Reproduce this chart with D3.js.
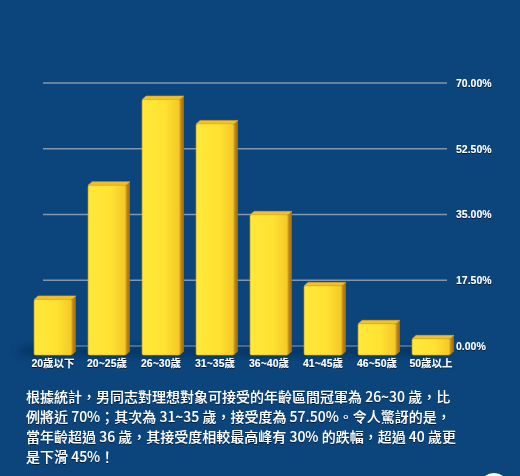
<!DOCTYPE html>
<html>
<head>
<meta charset="utf-8">
<script src="https://cdn.jsdelivr.net/npm/d3@7"></script>
<style>
  html, body { margin: 0; padding: 0; background: #0b457c; }
  svg { display: block; }
</style>
</head>
<body>
<div id="chart"></div>
<script>
// categories and acceptance values (%)
var ageGroups = ["20歲以下", "20~25歲", "26~30歲", "31~35歲", "36~40歲", "41~45歲", "46~50歲", "50歲以上"];
var acceptance = [14.8, 45.2, 68, 61.5, 37.3, 18.4, 8.3, 4.3];
var tickValues = [0, 17.5, 35, 52.5, 70];
var tickLabels = ["0.00%", "17.50%", "35.00%", "52.50%", "70.00%"];
var noteLines = [
    "根據統計，男同志對理想對象可接受的年齡區間冠軍為 26~30 歲，比",
    "例將近 70%；其次為 31~35 歲，接受度為 57.50%。令人驚訝的是，",
    "當年齡超過 36 歲，其接受度相較最高峰有 30% 的跌幅，超過 40 歲更",
    "是下滑 45%！"
];

var width = 520, height = 476;

var svg = d3.select("#chart")
    .append("svg")
    .attr("width", width)
    .attr("height", height);

svg.append("rect")
    .attr("width", width)
    .attr("height", height)
    .attr("fill", "#0b457c");

var defs = svg.append("defs");

// front face gradient
var g1 = defs.append("linearGradient").attr("id", "front").attr("x1", 0).attr("x2", 1).attr("y1", 0).attr("y2", 0);
g1.append("stop").attr("offset", "0%").attr("stop-color", "#ffe83a");
g1.append("stop").attr("offset", "60%").attr("stop-color", "#ffe232");
g1.append("stop").attr("offset", "100%").attr("stop-color", "#f4c726");

var g2 = defs.append("linearGradient").attr("id", "side").attr("x1", 0).attr("x2", 1).attr("y1", 0).attr("y2", 0);
g2.append("stop").attr("offset", "0%").attr("stop-color", "#c9921c");
g2.append("stop").attr("offset", "100%").attr("stop-color", "#9c6c14");

defs.append("filter").attr("id", "blur")
    .attr("x", "-50%").attr("y", "-50%").attr("width", "200%").attr("height", "200%")
    .append("feGaussianBlur").attr("stdDeviation", 4);

defs.append("filter").attr("id", "tshadow")
    .append("feDropShadow")
    .attr("dx", 0).attr("dy", 1).attr("stdDeviation", 0.6)
    .attr("flood-color", "#000").attr("flood-opacity", 0.6);

// y scale for the back wall (gridlines)
var y = d3.scaleLinear()
    .domain([0, 70])
    .range([346, 83]);

// bars sit in front of the wall, so they get their own x range
var x = d3.scaleBand()
    .domain(ageGroups)
    .range([26, 458])
    .paddingInner(0.3)
    .paddingOuter(0.15);

var depthY = 9;      // front face drop compared to the back wall
var dx = 4, dy = 3.5; // 3d depth of the bar

// gridlines
svg.append("g")
    .selectAll("line")
    .data(tickValues)
    .enter()
    .append("line")
    .attr("x1", 43)
    .attr("x2", 447)
    .attr("y1", function (d) { return y(d) })
    .attr("y2", function (d) { return y(d) })
    .attr("stroke", "#8296ad")
    .attr("stroke-width", 1.5);

// right axis labels
var yAxis = svg.append("g")
    .attr("transform", "translate(447,0)")
    .call(d3.axisRight(y).tickValues(tickValues).tickSize(0).tickPadding(9)
        .tickFormat(function (d, i) { return tickLabels[i] }));
yAxis.select(".domain").remove();
yAxis.selectAll("text")
    .attr("fill", "#ffffff")
    .attr("filter", "url(#tshadow)")
    .style("font-family", "'Liberation Sans', Arial, sans-serif")
    .style("font-weight", "bold")
    .style("font-size", "10.5px");

// shadows under the bars
svg.append("g")
    .selectAll("ellipse")
    .data(ageGroups)
    .enter()
    .append("ellipse")
    .attr("cx", function (d) { return x(d) + x.bandwidth() / 2 - 8 })
    .attr("cy", y(0) + depthY - 4)
    .attr("rx", x.bandwidth() * 0.75)
    .attr("ry", 5)
    .attr("fill", "#062a50")
    .attr("opacity", 0.7)
    .attr("filter", "url(#blur)");

var bars = svg.append("g")
    .selectAll("g")
    .data(acceptance)
    .enter()
    .append("g");

// side face
bars.append("path")
    .attr("d", function (d, i) {
        var x1 = x(ageGroups[i]) + x.bandwidth();
        var yT = y(d) + depthY, yB = y(0) + depthY;
        return "M" + x1 + "," + yT + "L" + (x1 + dx) + "," + (yT - dy) +
            "L" + (x1 + dx) + "," + (yB - dy) + "L" + x1 + "," + yB + "Z";
    })
    .attr("fill", "url(#side)");

// top face
bars.append("path")
    .attr("d", function (d, i) {
        var x0 = x(ageGroups[i]), x1 = x0 + x.bandwidth();
        var yT = y(d) + depthY;
        return "M" + x0 + "," + yT + "L" + (x0 + dx) + "," + (yT - dy) +
            "L" + (x1 + dx) + "," + (yT - dy) + "L" + x1 + "," + yT + "Z";
    })
    .attr("fill", "#f3c127")
    .attr("stroke", "#e0a21c")
    .attr("stroke-width", 0.6);

// front face
bars.append("rect")
    .attr("x", function (d, i) { return x(ageGroups[i]) })
    .attr("y", function (d) { return y(d) + depthY })
    .attr("width", x.bandwidth())
    .attr("height", function (d) { return y(0) - y(d) })
    .attr("rx", 1.5)
    .attr("fill", "url(#front)")
    .attr("stroke", "#e5b020")
    .attr("stroke-width", 0.6);

// category labels
svg.append("g")
    .selectAll("text")
    .data(ageGroups)
    .enter()
    .append("text")
    .attr("x", function (d) { return x(d) + x.bandwidth() / 2 })
    .attr("y", 367)
    .attr("text-anchor", "middle")
    .attr("fill", "#ffffff")
    .attr("filter", "url(#tshadow)")
    .style("font-family", "'Liberation Sans', 'Noto Sans CJK TC', sans-serif")
    .style("font-weight", "bold")
    .style("font-size", "10.5px")
    .text(function (d) { return d });

// note under the chart
svg.append("g")
    .selectAll("text")
    .data(noteLines)
    .enter()
    .append("text")
    .attr("x", 26)
    .attr("y", function (d, i) { return 402 + i * 20 })
    .attr("fill", "#ffffff")
    .attr("filter", "url(#tshadow)")
    .style("font-family", "'Noto Sans CJK TC', sans-serif")
    .style("font-weight", 500)
    .style("font-size", "14px")
    .text(function (d) { return d });

// little round button peeking in at the bottom right
svg.append("circle")
    .attr("cx", 494)
    .attr("cy", 488)
    .attr("r", 15)
    .attr("fill", "#ffffff");
</script>
</body>
</html>
